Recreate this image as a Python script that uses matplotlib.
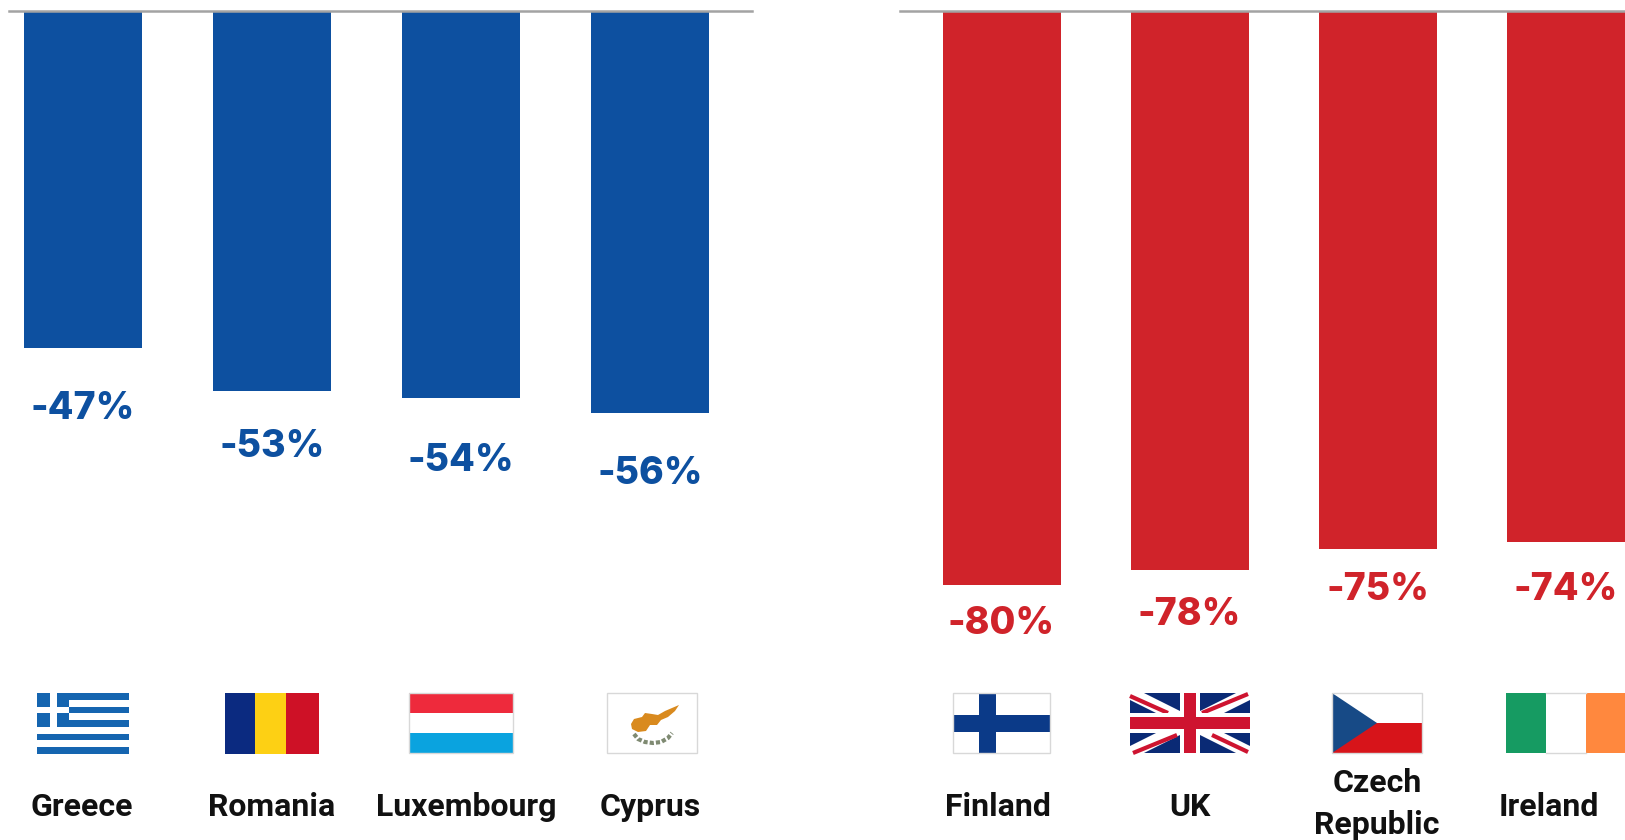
import matplotlib
matplotlib.use('Agg')
import matplotlib.pyplot as plt
from matplotlib.patches import Rectangle, Polygon

plt.rcParams['font.family'] = ['Roboto', 'DejaVu Sans']

low_countries = ['Greece', 'Romania', 'Luxembourg', 'Cyprus']
low_values = [-47, -53, -54, -56]
high_countries = ['Finland', 'UK', 'Czech\nRepublic', 'Ireland']
high_values = [-80, -78, -75, -74]

BLUE = '#0D50A0'
RED = '#D0232A'
W, H = 1625, 840


def px_axes(x0, x1, y0, y1):
    return plt.gcf().add_axes([x0 / W, 1 - y1 / H, (x1 - x0) / W, (y1 - y0) / H])


def plot_bars(x0, x1, first, step, values, color, gaps, width):
    ax = px_axes(x0, x1, 11, 840)
    ax.bar(range(len(values)), values, width=width / step, color=color)
    for i, v in enumerate(values):
        ax.annotate(f'{v}%', (i, v), xytext=(0, -gaps[i] * 0.72), textcoords='offset points',
                    ha='center', va='center', color=color, fontsize=27, fontweight='heavy',
                    family=['Inter', 'DejaVu Sans'])
    ax.set_xlim((x0 - first) / step, (x1 - first) / step)
    ax.set_ylim(-829 / 7.17, 0)
    for s in ['left', 'right', 'bottom']:
        ax.spines[s].set_visible(False)
    ax.spines['top'].set_color('#A3A3A3')
    ax.spines['top'].set_linewidth(1.8)
    ax.set_xticks([])
    ax.set_yticks([])
    ax.patch.set_alpha(0)
    return ax


def rect(ax, x0, y0, x1, y1, color, z=2):
    ax.add_patch(Rectangle((x0, y0), x1 - x0, y1 - y0, facecolor=color, edgecolor='none', zorder=z))


def frame(ax, x0, y0, x1, y1):
    ax.add_patch(Rectangle((x0, y0), x1 - x0, y1 - y0, fill=False, edgecolor='#D8D8D8', linewidth=1, zorder=6))


def flag_greece(ax):
    x0, x1, y0, y1 = 37, 129, 693, 754
    h = (y1 - y0) / 9
    rect(ax, x0, y0, x1, y1, 'white')
    for i in range(0, 9, 2):
        rect(ax, x0, y0 + i * h, x1, y0 + (i + 1) * h, '#1565B0')
    rect(ax, x0, y0, x0 + 32, y0 + 5 * h, '#1565B0', 3)
    rect(ax, x0 + 13, y0, x0 + 20, y0 + 5 * h, 'white', 4)
    rect(ax, x0, y0 + 2 * h, x0 + 32, y0 + 3 * h, 'white', 4)


def flag_romania(ax):
    rect(ax, 225, 693, 255, 754, '#0B2A80')
    rect(ax, 255, 693, 286, 754, '#FDD014')
    rect(ax, 286, 693, 319, 754, '#CE1126')


def flag_luxembourg(ax):
    rect(ax, 409, 693, 513, 713, '#EE2A3C')
    rect(ax, 409, 713, 513, 733, 'white')
    rect(ax, 409, 733, 513, 753, '#0AA3DF')
    frame(ax, 409, 693, 513, 753)


def flag_cyprus(ax):
    frame(ax, 607, 693, 697, 753)
    island = [(631, 724), (634, 719), (642, 717), (645, 713), (652, 714), (658, 715), (665, 711),
              (672, 708), (679, 705), (675, 711), (668, 717), (661, 720), (657, 725), (650, 725),
              (646, 731), (638, 732), (632, 729)]
    ax.add_patch(Polygon(island, closed=True, facecolor='#D98A1E', edgecolor='none', zorder=3))
    ax.plot([634, 638, 645, 653, 661, 668, 672], [734, 739, 742, 743, 742, 738, 733],
            color='#7F8A72', linewidth=3, linestyle=(0, (1, 0.5)), zorder=3)


def flag_finland(ax):
    rect(ax, 953, 693, 1050, 753, 'white')
    rect(ax, 979, 693, 996, 753, '#0B3A88', 3)
    rect(ax, 953, 715, 1050, 732, '#0B3A88', 3)
    frame(ax, 953, 693, 1050, 753)


def flag_uk(ax):
    x0, x1, y0, y1 = 1130, 1250, 693, 753
    xc, yc = 1190, 723
    box = Rectangle((x0, y0), x1 - x0, y1 - y0, facecolor='#0A2A75', edgecolor='none', zorder=2)
    ax.add_patch(box)
    for (a, b), (c, d) in [((x0, y0), (x1, y1)), ((x0, y1), (x1, y0))]:
        line, = ax.plot([a, c], [b, d], color='white', linewidth=9, zorder=3, solid_capstyle='butt')
        line.set_clip_path(box)
    # red diagonals sit off centre in each quarter
    for xs, ys in [((1130, 1168), (696, 713)), ((1202, 1248), (713, 694)),
                   ((1133, 1177), (753, 735)), ((1212, 1248), (735, 752))]:
        ax.plot(xs, ys, color='#CE1430', linewidth=3, zorder=4, solid_capstyle='butt')
    rect(ax, xc - 10, y0, xc + 10, y1, 'white', 5)
    rect(ax, x0, yc - 10, x1, yc + 10, 'white', 5)
    rect(ax, xc - 6, y0, xc + 6, y1, '#CE1430', 6)
    rect(ax, x0, yc - 6, x1, yc + 6, '#CE1430', 6)


def flag_czech(ax):
    frame(ax, 1332, 693, 1422, 753)
    rect(ax, 1332, 723, 1422, 753, '#D7141A')
    ax.add_patch(Polygon([(1332, 693), (1377, 723), (1332, 753)], closed=True,
                         facecolor='#174A86', edgecolor='none', zorder=3))


def flag_ireland(ax):
    rect(ax, 1506, 693, 1546, 753, '#169B62')
    rect(ax, 1546, 693, 1586, 753, 'white')
    rect(ax, 1586, 693, 1625, 753, '#FF883E')
    ax.plot([1546, 1586], [693, 693], color='#D8D8D8', linewidth=1, zorder=3)
    ax.plot([1546, 1586], [753, 753], color='#D8D8D8', linewidth=1, zorder=3)


def plot_footer(names, xs, ys):
    ax = plt.gcf().add_axes([0, 0, 1, 1])
    ax.set_xlim(0, W)
    ax.set_ylim(H, 0)
    ax.axis('off')
    for name, x, y in zip(names, xs, ys):
        ax.text(x, y, name, ha='center', va='center', fontsize=23, fontweight='bold',
                color='#111111', linespacing=1.5)
    for draw in [flag_greece, flag_romania, flag_luxembourg, flag_cyprus,
                 flag_finland, flag_uk, flag_czech, flag_ireland]:
        draw(ax)


def main():
    plt.figure(figsize=(16.25, 8.4), dpi=100)
    plot_bars(9, 752, 83, 189, low_values, BLUE, [61, 56, 63, 61], 118)
    plot_bars(900, 1625, 1001.5, 188, high_values, RED, [39.5, 45, 41, 48], 118)
    names = low_countries + high_countries
    plot_footer(names, [82, 272, 466, 650, 998, 1190, 1377, 1549],
                [807, 807, 807, 807, 807, 807, 804, 807])
    plt.savefig('out.png', dpi=100)
    plt.close()


if __name__ == "__main__":
    main()
